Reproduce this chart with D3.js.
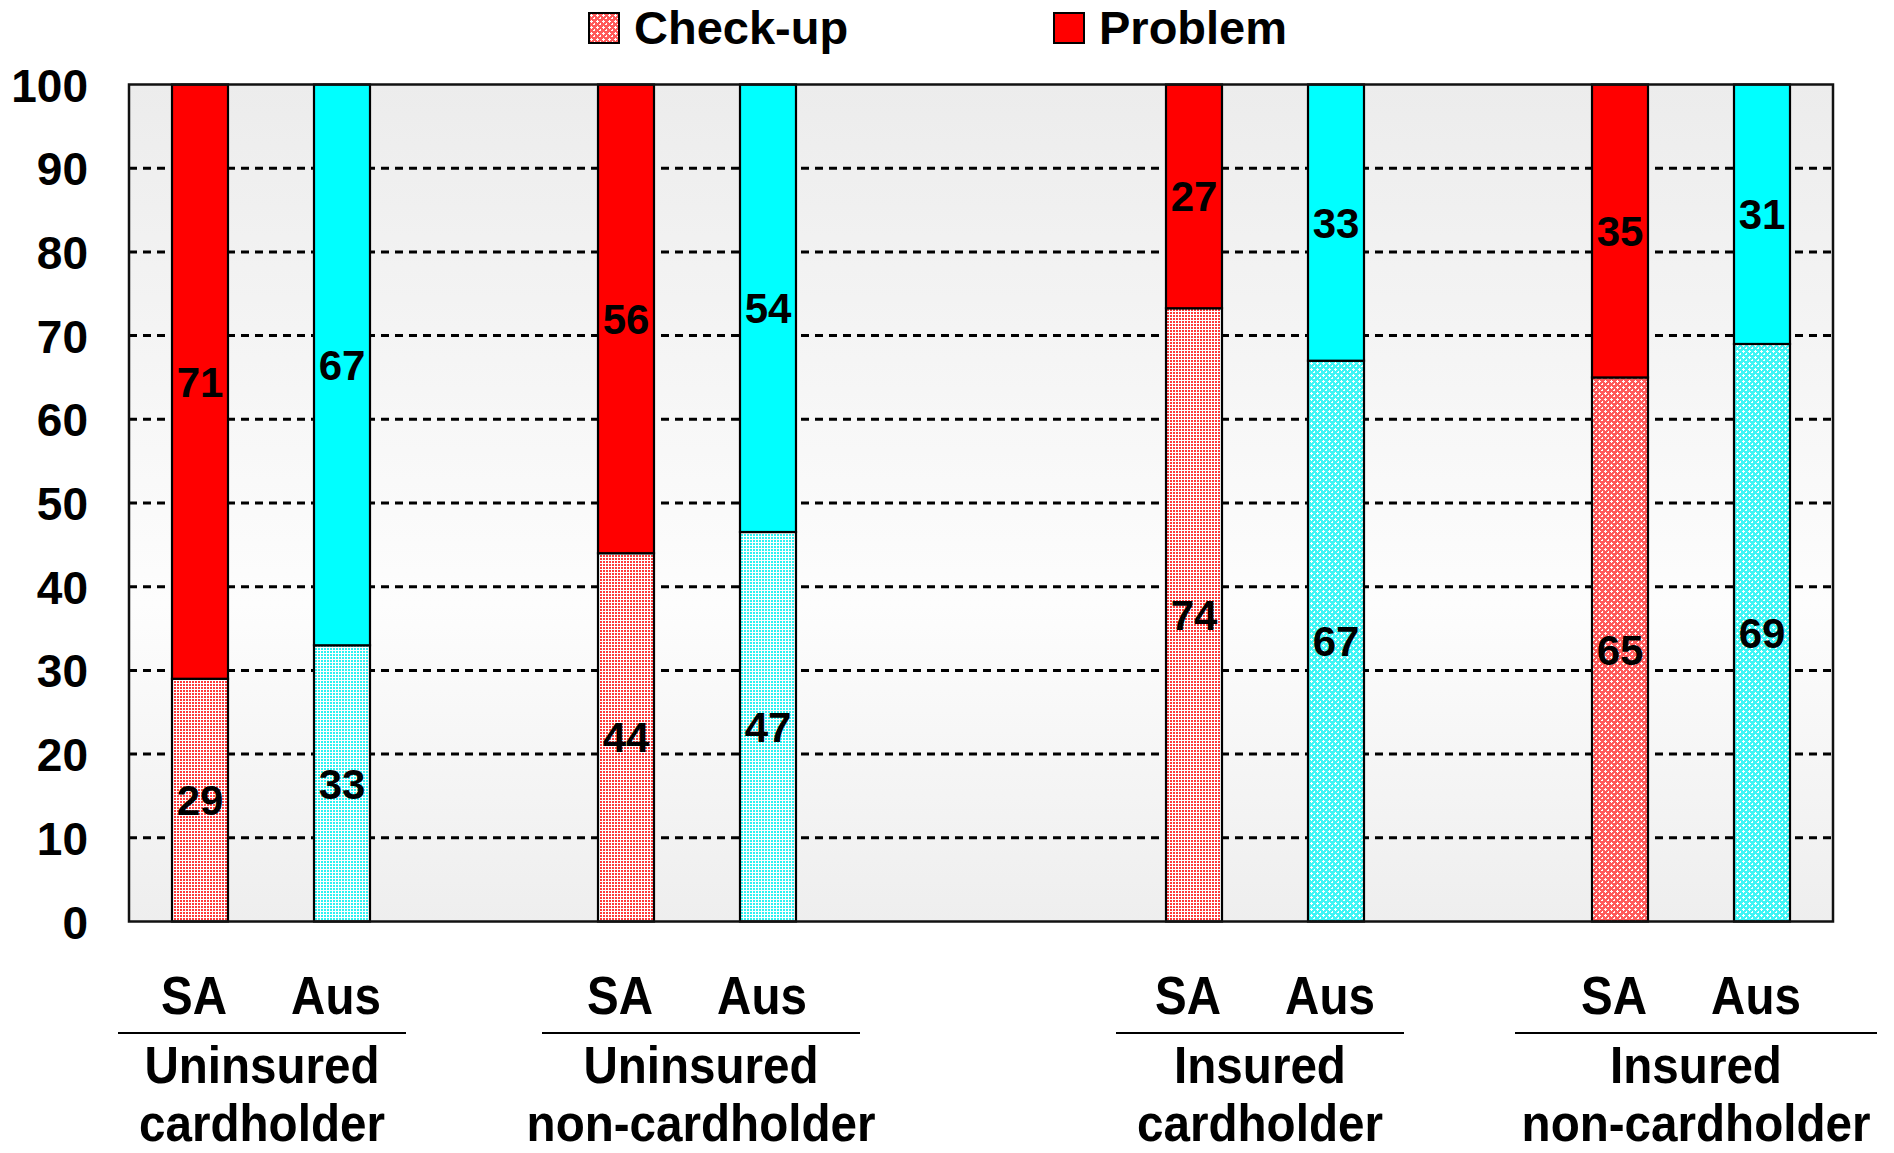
<!DOCTYPE html>
<html>
<head>
<meta charset="utf-8">
<script src="https://cdn.jsdelivr.net/npm/d3@7"></script>
<style>
  html, body { margin: 0; padding: 0; background: #ffffff; }
  svg { display: block; }
</style>
</head>
<body>
<script>
// ---------------- data ----------------
const groupTitles = [
  ["Uninsured", "cardholder"],
  ["Uninsured", "non-cardholder"],
  ["Insured", "cardholder"],
  ["Insured", "non-cardholder"]
];
const countries = ["SA", "Aus"];
// slot layout of the category axis (empty slots are gaps)
const slots = ["g0-SA", "g0-Aus", "gap-a", "g1-SA", "g1-Aus", "gap-b", "gap-c",
               "g2-SA", "g2-Aus", "gap-d", "g3-SA", "g3-Aus"];
const checkupValues = [29, 33, 44, 47, 74, 67, 65, 69];
const problemValues = [71, 67, 56, 54, 27, 33, 35, 31];
const yTickValues = [0, 10, 20, 30, 40, 50, 60, 70, 80, 90, 100];
const legendLabels = ["Check-up", "Problem"];

// ---------------- layout / style ----------------
const W = 1894, H = 1153;
const plot = { left: 129, right: 1833, top: 84.5, bottom: 921.5 };
const barWidth = 56;
const fontMain = "'Liberation Sans', Arial, Helvetica, sans-serif";
const solidColor = { SA: "#ff0000", Aus: "#00ffff" };
// check-up pattern kind per bar (dots for first five, diamond for last three)
const patternKind = ["dots", "dots", "dots", "dots", "dots", "diamond", "diamond", "diamond"];
const titleOffset = [-9, 4, -5, 5];
const underlineHalf = [144, 159, 144, 181];

const svg = d3.select("body").append("svg")
  .attr("width", W).attr("height", H)
  .attr("viewBox", `0 0 ${W} ${H}`);

const defs = svg.append("defs");

// background gradient
const grad = defs.append("linearGradient")
  .attr("id", "bgGrad").attr("x1", 0).attr("y1", 0).attr("x2", 0).attr("y2", 1);
grad.append("stop").attr("offset", "0%").attr("stop-color", "#ececec");
grad.append("stop").attr("offset", "62%").attr("stop-color", "#fdfdfd");
grad.append("stop").attr("offset", "100%").attr("stop-color", "#eeeeee");

// patterns
function makeDots(id, color) {
  const p = defs.append("pattern").attr("id", id)
    .attr("patternUnits", "userSpaceOnUse").attr("width", 3).attr("height", 3);
  p.append("rect").attr("width", 3).attr("height", 3).attr("fill", "#ffffff");
  p.append("rect").attr("x", 0).attr("y", 0).attr("width", 2).attr("height", 2)
    .attr("fill", color).attr("shape-rendering", "crispEdges");
}
function makeDiamond(id, color) {
  const p = defs.append("pattern").attr("id", id)
    .attr("patternUnits", "userSpaceOnUse").attr("width", 6).attr("height", 6);
  p.append("rect").attr("width", 6).attr("height", 6).attr("fill", color)
    .attr("shape-rendering", "crispEdges");
  const whites = [[3, 2, 1, 3], [2, 3, 3, 1], [0, 0, 1, 1], [5, 0, 1, 1], [0, 5, 1, 1]];
  whites.forEach(([a, b, w, h]) => {
    p.append("rect").attr("x", a).attr("y", b).attr("width", w).attr("height", h)
      .attr("fill", "#ffffff").attr("shape-rendering", "crispEdges");
  });
}
makeDots("dots-SA", "#ff3a3a");
makeDots("dots-Aus", "#2ef2f2");
makeDiamond("diamond-SA", "#ff5a5a");
makeDiamond("diamond-Aus", "#3ff5f5");

// scales
const x = d3.scaleBand().domain(slots).range([plot.left, plot.right]).paddingInner(0).paddingOuter(0);
const y = d3.scaleLinear().domain([0, 100]).range([plot.bottom, plot.top]);

// bars data
const bars = checkupValues.map((c, i) => {
  const g = Math.floor(i / 2);
  const country = countries[i % 2];
  const p = problemValues[i];
  const total = c + p;
  const cPct = c / total * 100;
  return { i, g, country, slot: `g${g}-${country}`, check: c, prob: p, cPct };
});

// plot background
svg.append("rect")
  .attr("x", plot.left).attr("y", plot.top)
  .attr("width", plot.right - plot.left).attr("height", plot.bottom - plot.top)
  .attr("fill", "url(#bgGrad)");

// gridlines
svg.append("g").selectAll("line")
  .data(yTickValues.filter(v => v > 0 && v < 100))
  .join("line")
  .attr("x1", plot.left).attr("x2", plot.right)
  .attr("y1", d => y(d)).attr("y2", d => y(d))
  .attr("stroke", "#000").attr("stroke-width", 3)
  .attr("stroke-dasharray", "8,6");

// bars
const barG = svg.append("g");
bars.forEach(b => {
  const bx = x(b.slot) + (x.bandwidth() - barWidth) / 2;
  barG.append("rect")
    .attr("x", bx).attr("width", barWidth)
    .attr("y", y(b.cPct)).attr("height", y(0) - y(b.cPct))
    .attr("fill", `url(#${patternKind[b.i]}-${b.country})`)
    .attr("stroke", "#000").attr("stroke-width", 2.2);
  barG.append("rect")
    .attr("x", bx).attr("width", barWidth)
    .attr("y", y(100)).attr("height", y(b.cPct) - y(100))
    .attr("fill", solidColor[b.country])
    .attr("stroke", "#000").attr("stroke-width", 2.2);
});

// value labels
const lblG = svg.append("g")
  .attr("font-family", fontMain).attr("font-weight", "bold")
  .attr("font-size", 42).attr("text-anchor", "middle").attr("fill", "#000");
bars.forEach(b => {
  const cx = x(b.slot) + x.bandwidth() / 2;
  lblG.append("text")
    .attr("x", cx).attr("y", y(b.cPct / 2))
    .attr("dy", "0.36em").text(b.check);
  lblG.append("text")
    .attr("x", cx).attr("y", y((b.cPct + 100) / 2))
    .attr("dy", "0.36em").text(b.prob);
});

// frame
svg.append("rect")
  .attr("x", plot.left).attr("y", plot.top)
  .attr("width", plot.right - plot.left).attr("height", plot.bottom - plot.top)
  .attr("fill", "none").attr("stroke", "#111").attr("stroke-width", 2.5);

// y axis
const yAxis = svg.append("g")
  .attr("transform", `translate(${plot.left},0)`)
  .call(d3.axisLeft(y).tickValues(yTickValues).tickSize(0).tickPadding(41).tickFormat(d3.format("d")));
yAxis.select(".domain").remove();
yAxis.selectAll("text")
  .attr("font-family", fontMain).attr("font-weight", "bold")
  .attr("font-size", 46).attr("fill", "#000").attr("dy", "0.36em");

// country labels under bars
const botG = svg.append("g")
  .attr("font-family", fontMain).attr("font-weight", "bold")
  .attr("fill", "#000").attr("text-anchor", "middle");
bars.forEach(b => {
  const cx = x(b.slot) + x.bandwidth() / 2 - 6;
  botG.append("text")
    .attr("font-size", 54)
    .attr("transform", `translate(${cx},1014) scale(0.88,1)`)
    .text(b.country);
});

// group titles with underline
groupTitles.forEach((lines, g) => {
  const cx = (x(`g${g}-SA`) + x(`g${g}-Aus`)) / 2 + x.bandwidth() / 2 + titleOffset[g];
  botG.append("line")
    .attr("x1", cx - underlineHalf[g]).attr("x2", cx + underlineHalf[g])
    .attr("y1", 1033).attr("y2", 1033)
    .attr("stroke", "#000").attr("stroke-width", 2);
  lines.forEach((t, k) => {
    botG.append("text")
      .attr("font-size", 52)
      .attr("transform", `translate(${cx},${1083 + k * 58}) scale(0.915,1)`)
      .text(t);
  });
});

// legend
const legG = svg.append("g")
  .attr("font-family", fontMain).attr("font-weight", "bold")
  .attr("font-size", 47).attr("fill", "#000");
const legX = [589, 1054];
legendLabels.forEach((lab, k) => {
  legG.append("rect")
    .attr("x", legX[k]).attr("y", 13).attr("width", 30).attr("height", 30)
    .attr("fill", k === 0 ? "url(#diamond-SA)" : solidColor.SA)
    .attr("stroke", "#000").attr("stroke-width", 2);
  legG.append("text").attr("x", legX[k] + 45).attr("y", 44).text(lab);
});
</script>
</body>
</html>
